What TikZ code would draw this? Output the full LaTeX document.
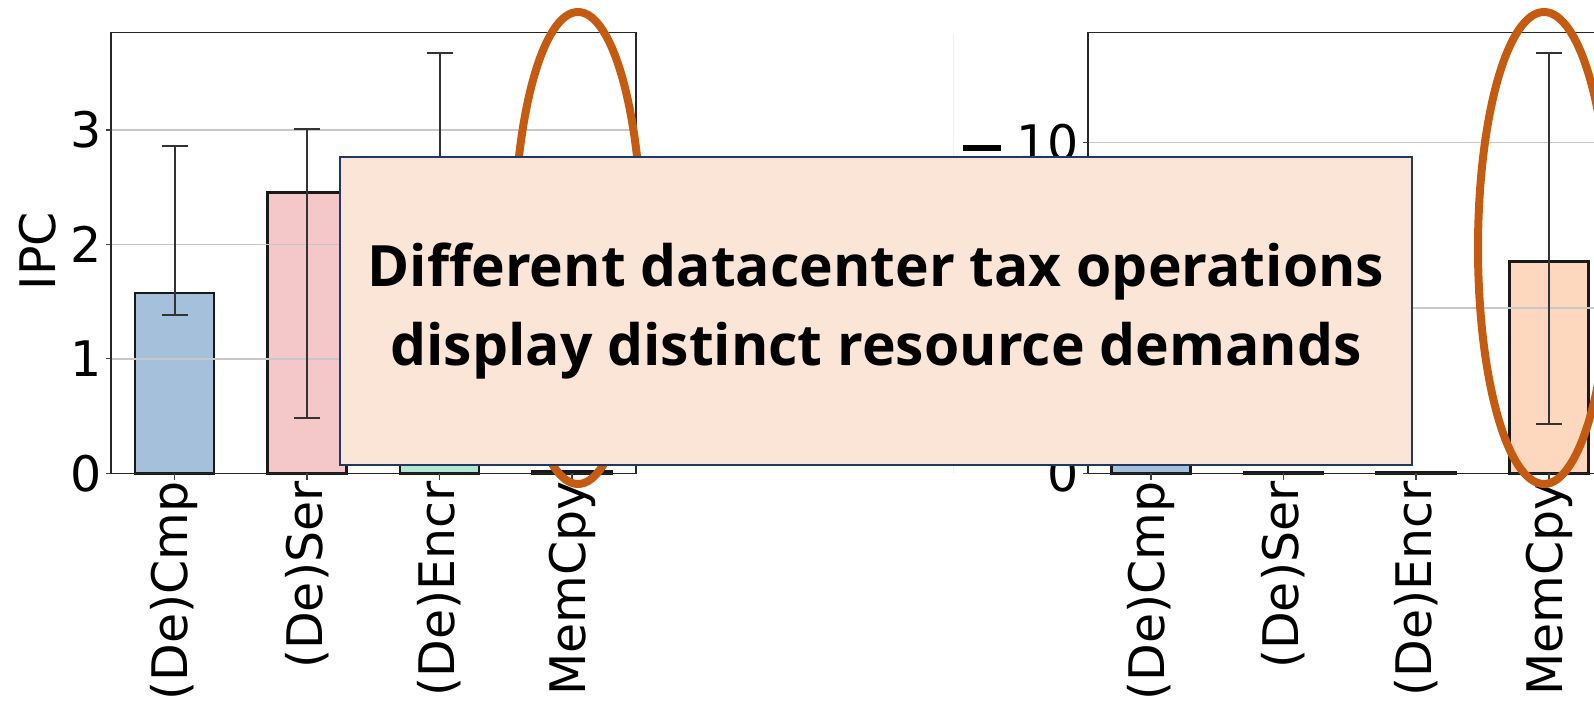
\documentclass[tikz,border=0pt]{standalone}
\usepackage{fontspec}
\setsansfont{DejaVu Sans}
\newfontfamily\notefont[Ligatures=NoCommon]{Open Sans}
\definecolor{cmpblue}{HTML}{A4C0DA}
\definecolor{serpink}{HTML}{F4C7C9}
\definecolor{encrgreen}{HTML}{B3E6D6}
\definecolor{cpyorange}{HTML}{FDD8BE}
\definecolor{hiorange}{HTML}{C55A11}
\definecolor{notefill}{HTML}{FBE5D6}
\definecolor{notenavy}{HTML}{1F3864}

\begin{document}
\begin{tikzpicture}[x=0.5pt, y=-0.5pt,
	bar/.style={draw=black!90, line width=1.25pt},
	errbar/.style={draw=black!80, line width=1pt},
	gridline/.style={draw=black!22, line width=0.75pt},
	frame/.style={draw=black!85, line width=0.6pt},
	tickmark/.style={draw=black!75, line width=0.6pt},
	ticklabel/.style={font=\sffamily\fontsize{24.5}{29}\selectfont, inner sep=0pt},
	hilite/.style={draw=hiorange, line width=4pt},
	note/.style={draw=notenavy, fill=notefill, line width=1.2pt, align=center, minimum width=536pt, minimum height=154pt,
		font=\notefont\bfseries\fontsize{28.5}{39.5}\selectfont}]
	\useasboundingbox (0,0) rectangle (1594,705);
	\clip (0,0) rectangle (1594,705);
	% faint edge left of the second panel
	\draw[black!6, line width=0.5pt] (953,33) -- (953,473);
	% bars: centre / px per unit / value / err low / err high / colour
	\foreach \cx/\s/\val/\lo/\hi/\col in {174.5/114.4/1.578/1.386/2.861/cmpblue, 307/114.4/2.453/0.486/3.012/serpink,
		439.5/114.4/2.3/1.1/3.671/encrgreen, 572/114.4/0.02/0.02/0.02/cpyorange,
		1151/33.06/3.5/1.2/6.0/cmpblue, 1283.5/33.06/0.02/0.02/0.02/serpink,
		1416/33.06/0.02/0.02/0.02/encrgreen, 1549/33.06/6.41/1.49/12.7/cpyorange}
		\draw[bar, fill=\col] ({\cx-39.5},473.3) rectangle ({\cx+39.5},{473.3-\val*\s});
	% grid
	\foreach \gy in {1,2,3}
		\draw[gridline] (111,{473.3-\gy*114.4}) -- (636,{473.3-\gy*114.4});
	\foreach \gy in {5,10}
		\draw[gridline] (1088,{473.3-\gy*33.06}) -- (1612,{473.3-\gy*33.06});
	% error bars
	\foreach \cx/\s/\lo/\hi in {174.5/114.4/1.386/2.861, 307/114.4/0.486/3.012, 439.5/114.4/1.1/3.671,
		1151/33.06/1.2/6.0, 1549/33.06/1.49/12.7}{
		\draw[errbar] (\cx,{473.3-\lo*\s}) -- (\cx,{473.3-\hi*\s});
		\draw[errbar] ({\cx-13},{473.3-\lo*\s}) -- ({\cx+13},{473.3-\lo*\s});
		\draw[errbar] ({\cx-13},{473.3-\hi*\s}) -- ({\cx+13},{473.3-\hi*\s});
	}
	% axes
	\draw[frame] (111,32.3) rectangle (636,473.3);
	\draw[frame] (1088,32.3) rectangle (1612,473.3);
	\foreach \cx in {174.5,307,439.5,572,1151,1283.5,1416,1549}
		\draw[tickmark] (\cx,473.3) -- (\cx,480.3);
	\foreach \gy in {0,1,2,3}{
		\draw[tickmark] (106,{473.3-\gy*114.4}) -- (111,{473.3-\gy*114.4});
		\node[ticklabel, anchor=east] (ly\gy) at (102.5,{473.3-\gy*114.4}) {\gy};
	}
	\foreach \gy in {0,10}{
		\draw[tickmark] (1083,{473.3-\gy*33.06}) -- (1088,{473.3-\gy*33.06});
		\node[ticklabel, anchor=east] (ry\gy) at (1079.5,{473.3-\gy*33.06}) {\gy};
	}
	\node[ticklabel, rotate=90] (ipc) at (37.5,251) {IPC};
	\fill[black] (963,145) rectangle (1001,151);
	\foreach \cx/\lab [count=\i] in {174.5/{(De)Cmp}, 307/{(De)Ser}, 439.5/{(De)Encr}, 572/{MemCpy},
		1151/{(De)Cmp}, 1283.5/{(De)Ser}, 1416/{(De)Encr}, 1549/{MemCpy}}
		\node[ticklabel, rotate=90, anchor=east] (xl\i) at (\cx,481) {\lab};
	% highlight rings
	\draw[hilite] (578,248) ellipse [x radius=32pt, y radius=118pt];
	\draw[hilite] (1544,248) ellipse [x radius=33pt, y radius=118pt];
	% takeaway box
	\node[note] (msg) at (876,311) {Different datacenter tax operations\\display distinct resource demands};
\end{tikzpicture}
\end{document}
